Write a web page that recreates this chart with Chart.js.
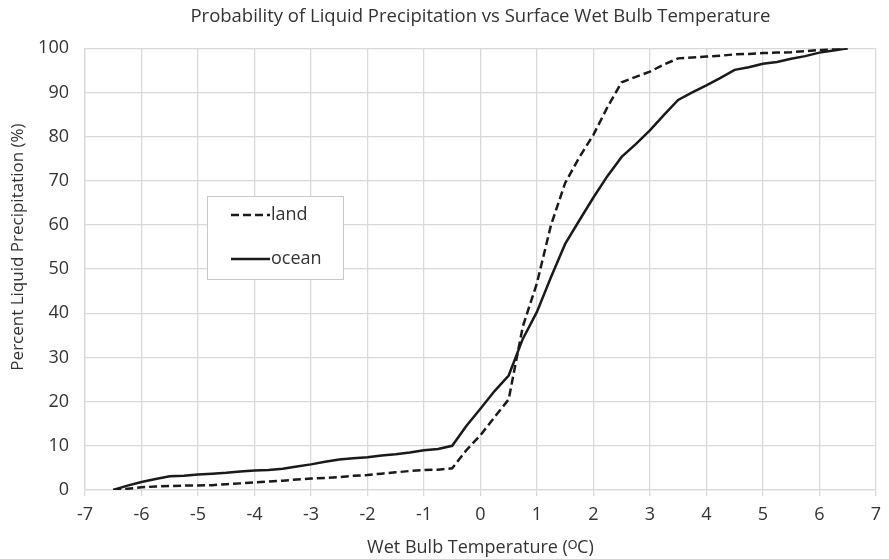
<!DOCTYPE html>
<html>
<head>
<meta charset="utf-8">
<script src="https://cdn.jsdelivr.net/npm/chart.js@4.4.1/dist/chart.umd.min.js"></script>
<style>
  html, body { margin: 0; padding: 0; background: #fff; }
  #wrap { width: 889px; height: 559px; }
</style>
</head>
<body>
<div id="wrap"><canvas id="grafik"></canvas></div>
<script>
// suhu bola basah (°C), langkah 0.25
const suhu = [
  -6.5, -6.25, -6, -5.75, -5.5, -5.25, -5, -4.75, -4.5, -4.25, -4, -3.75, -3.5,
  -3.25, -3, -2.75, -2.5, -2.25, -2, -1.75, -1.5, -1.25, -1, -0.75, -0.5,
  -0.25, 0, 0.25, 0.5, 0.75, 1, 1.25, 1.5, 1.75, 2, 2.25, 2.5, 2.75, 3,
  3.25, 3.5, 3.75, 4, 4.25, 4.5, 4.75, 5, 5.25, 5.5, 5.75, 6, 6.25, 6.5
];

// peluang hujan cair (%) di daratan
const darat = [
  0, 0.3, 0.6, 0.8, 0.9, 1.0, 1.0, 1.1, 1.3, 1.5, 1.7, 1.9, 2.1,
  2.4, 2.6, 2.7, 2.9, 3.2, 3.4, 3.7, 4.0, 4.3, 4.5, 4.6, 4.9,
  9.0, 12.4, 16.5, 20.5, 37.0, 46.8, 60.0, 69.5, 75.3, 80.4, 86.7, 92.3, 93.5, 94.7,
  96.3, 97.7, 97.9, 98.1, 98.3, 98.6, 98.7, 98.9, 99.0, 99.1, 99.3, 99.6, 99.8, 100
];

// peluang hujan cair (%) di lautan
const laut = [
  0, 1.0, 1.8, 2.5, 3.1, 3.2, 3.5, 3.7, 3.9, 4.2, 4.4, 4.5, 4.8,
  5.3, 5.8, 6.4, 6.9, 7.2, 7.4, 7.8, 8.1, 8.5, 9.0, 9.3, 10.0,
  14.5, 18.4, 22.4, 25.9, 34.2, 40.3, 48.2, 55.7, 61.0, 66.2, 71.1, 75.4, 78.3, 81.4,
  84.9, 88.3, 90.0, 91.6, 93.3, 95.1, 95.7, 96.5, 96.9, 97.6, 98.2, 99.0, 99.5, 100
];

const FONT = "'Open Sans', sans-serif";
const GRID = "#d9d9d9";
const TEKS = "#333333";
const JUDUL_Y = "Percent Liquid Precipitation (%)";

const pasangan = (xs, ys) => xs.map((x, i) => ({ x: x, y: ys[i] }));

// legenda di dalam area grafik (kotak putih berbingkai) + judul sumbu Y
const teksTambahan = {
  id: "teksTambahan",
  afterDraw(chart) {
    const ctx = chart.ctx;
    const kotak = { x: 207, y: 196, w: 136, h: 83 };
    ctx.save();
    ctx.fillStyle = "#fff";
    ctx.fillRect(kotak.x, kotak.y, kotak.w, kotak.h);
    ctx.strokeStyle = "#c8c8c8";
    ctx.lineWidth = 1;
    ctx.strokeRect(kotak.x + 0.5, kotak.y + 0.5, kotak.w, kotak.h);
    chart.data.datasets.forEach((ds, i) => {
      const y = kotak.y + 19 + i * 44;
      ctx.strokeStyle = ds.borderColor;
      ctx.lineWidth = ds.borderWidth;
      ctx.setLineDash(ds.borderDash || []);
      ctx.beginPath();
      ctx.moveTo(kotak.x + 24, y);
      ctx.lineTo(kotak.x + 63, y);
      ctx.stroke();
      ctx.setLineDash([]);
      ctx.fillStyle = TEKS;
      ctx.font = "18px " + FONT;
      ctx.textBaseline = "middle";
      ctx.textAlign = "left";
      ctx.fillText(ds.label, kotak.x + 64, y);
    });

    // judul sumbu Y, sedikit di atas tengah area plot
    ctx.translate(18, 247);
    ctx.rotate(-Math.PI / 2);
    ctx.fillStyle = TEKS;
    ctx.font = "17px " + FONT;
    ctx.textAlign = "center";
    ctx.textBaseline = "middle";
    ctx.fillText(JUDUL_Y, 0, 0);
    ctx.restore();
  }
};

new Chart(document.getElementById("grafik").getContext("2d"), {
  type: "line",
  data: {
    datasets: [
      {
        label: "land",
        data: pasangan(suhu, darat),
        borderColor: "#1a1a1a",
        borderWidth: 2.5,
        borderDash: [8, 4],
        pointRadius: 0,
        fill: false,
        tension: 0
      },
      {
        label: "ocean",
        data: pasangan(suhu, laut),
        borderColor: "#1a1a1a",
        borderWidth: 2.5,
        pointRadius: 0,
        fill: false,
        tension: 0
      }
    ]
  },
  options: {
    responsive: true,
    maintainAspectRatio: false,
    animation: false,
    layout: { padding: { left: 0, right: 9, top: 0, bottom: 0 } },
    plugins: {
      legend: { display: false },
      tooltip: { enabled: false },
      title: {
        display: true,
        fullSize: false,
        text: "Probability of Liquid Precipitation vs Surface Wet Bulb Temperature",
        color: TEKS,
        font: { family: FONT, size: 18.5, weight: "normal" },
        padding: { top: 6, bottom: 20 }
      }
    },
    scales: {
      x: {
        type: "linear",
        min: -7,
        max: 7,
        afterFit(scale) { scale.height = 69; },
        ticks: { stepSize: 1, color: TEKS, padding: 8, font: { family: FONT, size: 18 } },
        grid: { color: GRID, lineWidth: 1.3, tickLength: 6, tickColor: GRID },
        border: { color: GRID, width: 1.3 },
        title: {
          display: true,
          text: "Wet Bulb Temperature (\u1D3CC)",
          color: TEKS,
          font: { family: FONT, size: 18 },
          padding: { top: 10, bottom: 0 }
        }
      },
      y: {
        min: 0,
        max: 100,
        afterFit(scale) { scale.width = 85; },
        ticks: { stepSize: 10, color: TEKS, padding: 16, font: { family: FONT, size: 18 } },
        grid: { color: GRID, lineWidth: 1.3, drawTicks: false },
        border: { color: GRID, width: 1.3 }
      }
    }
  },
  plugins: [teksTambahan]
});
</script>
</body>
</html>
